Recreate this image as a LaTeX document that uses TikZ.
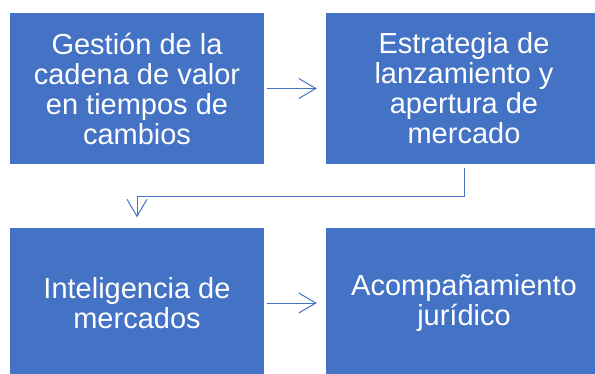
\documentclass[tikz,border=0pt]{standalone}
\usepackage{fontspec}
\setmainfont{Liberation Sans}
\usetikzlibrary{arrows.meta}
\definecolor{officeblue}{HTML}{4472C4}
\tikzset{
  box/.style={fill=officeblue,text=white,inner sep=0pt,align=center,
    minimum height=151pt,font=\fontsize{29}{30}\selectfont},
  flow/.style={draw=officeblue,line width=1pt,-{Straight Barb[length=17pt,width=20pt,line width=1pt]}}
}
\begin{document}
\begin{tikzpicture}[x=1pt,y=-1pt]
                \useasboundingbox (0,0) rectangle (595,373);
                \clip (0,0) rectangle (595,373);
                \node[box,minimum width=254pt] (gestion) at (137,88.5) {Gestión de la\\cadena de valor\\en tiempos de\\cambios};
                \node[box,minimum width=276pt] (estrategia) at (464,88.5) {Estrategia de\\lanzamiento y\\apertura de\\mercado};
                \node[box,minimum width=254pt] (inteligencia) at (137,303) {Inteligencia de\\mercados};
                \node[box,minimum width=276pt] (acompanamiento) at (464,303) {Acompañamiento\\jurídico};
                \draw[flow,shorten <=3pt,shorten >=9pt] (gestion.east) -- (estrategia.west);
                \draw[flow,shorten <=4pt,shorten >=10pt] (estrategia.south) -- ++(0,32) -| (inteligencia.north);
                \draw[flow,shorten <=3pt,shorten >=9pt] (inteligencia.east) -- (acompanamiento.west);
            \end{tikzpicture}
\end{document}
